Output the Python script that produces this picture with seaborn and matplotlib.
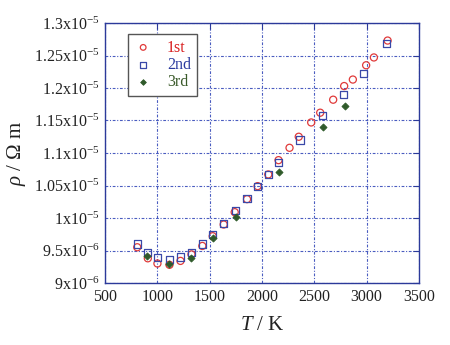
import numpy as np
import pandas as pd
import matplotlib
matplotlib.use("Agg")
import matplotlib.pyplot as plt
import seaborn as sns

# Electrical resistivity vs temperature, three measurement runs
t_1st = [808, 909, 1001, 1116, 1221, 1326, 1430, 1529, 1634, 1739, 1857, 1958,
         2060, 2158, 2263, 2351, 2470, 2556, 2680, 2785, 2868, 2995, 3069, 3200]
rho_1st = [9.55, 9.38, 9.30, 9.28, 9.34, 9.44, 9.57, 9.72, 9.90, 10.09, 10.29, 10.49,
           10.67, 10.89, 11.08, 11.25, 11.47, 11.62, 11.82, 12.03, 12.13, 12.35, 12.47, 12.73]

t_2nd = [808, 904, 1001, 1116, 1218, 1326, 1430, 1529, 1634, 1745, 1857, 1958,
         2060, 2162, 2363, 2582, 2780, 2973, 3193]
rho_2nd = [9.60, 9.47, 9.39, 9.36, 9.40, 9.47, 9.60, 9.75, 9.91, 10.11, 10.30, 10.49,
           10.67, 10.85, 11.20, 11.57, 11.90, 12.23, 12.68]

t_3rd = [904, 1113, 1326, 1531, 1752, 2165, 2580, 2795]
rho_3rd = [9.42, 9.29, 9.39, 9.69, 10.01, 10.71, 11.40, 11.72]

run_names = ["1st", "2nd", "3rd"]
x_ticks = [500, 1000, 1500, 2000, 2500, 3000, 3500]

frames = []
for name, t, r in zip(run_names, [t_1st, t_2nd, t_3rd], [rho_1st, rho_2nd, rho_3rd]):
    frames.append(pd.DataFrame({"T": t, "rho": np.array(r) * 1e-6, "run": name}))
df = pd.concat(frames, ignore_index=True)

sns.set_style("white")
plt.rcParams["font.family"] = ["Liberation Serif", "DejaVu Serif"]
plt.rcParams["mathtext.fontset"] = "custom"
plt.rcParams["mathtext.rm"] = "Liberation Serif"
plt.rcParams["mathtext.it"] = "Liberation Serif:italic"

axis_blue = "#2c3a9a"
grid_blue = "#4a5cc0"
styles = {
    "1st": dict(marker="o", facecolor="none", edgecolor="#e03a3a", s=26, lw=0.9),
    "2nd": dict(marker="s", facecolor="none", edgecolor="#3a48a8", s=26, lw=0.9),
    "3rd": dict(marker="D", facecolor="#2f5a2a", edgecolor="#2f5a2a", s=13, lw=0.6),
}
text_colors = {"1st": "#d81e1e", "2nd": "#2a3a9e", "3rd": "#3a5a2a"}

fig = plt.figure(figsize=(4.5, 3.45), dpi=100)
ax = fig.add_axes([105 / 450, 1 - 283 / 345, 314 / 450, 260 / 345])

for name in run_names:
    st = styles[name]
    sns.scatterplot(data=df[df["run"] == name], x="T", y="rho", ax=ax,
                    marker=st["marker"], facecolor=st["facecolor"],
                    edgecolor=st["edgecolor"], s=st["s"], linewidth=st["lw"],
                    label=name, zorder=3)

ax.set_xlim(500, 3500)
ax.set_ylim(9e-6, 1.3e-5)
ax.set_xticks(x_ticks)
ax.set_xticklabels([str(v) for v in x_ticks])
y_ticks = np.arange(9.0, 13.01, 0.5) * 1e-6
ax.set_yticks(y_ticks)


def sci_label(v):
    exp = -6 if v < 9.99e-6 else -5
    mant = v / 10.0 ** exp
    return r"$\mathrm{%sx10^{%d}}$" % (f"{mant:g}", exp)


ax.set_yticklabels([sci_label(v) for v in y_ticks])

ax.grid(True, color=grid_blue, linestyle=(0, (2.5, 1.5, 1, 1.5)), linewidth=0.8)
for sp in ax.spines.values():
    sp.set_color(axis_blue)
    sp.set_linewidth(1.0)
ax.tick_params(direction="in", length=4, width=0.8, color=axis_blue,
               top=True, right=True, labelsize=11.5, pad=4, labelcolor="#222222")

ax.set_xlabel(r"$T$ / K", fontsize=15, labelpad=8, color="#222222")
ax.set_ylabel(r"$\rho$ / $\mathrm{\Omega}$ m", fontsize=15, labelpad=4, color="#222222")

leg = ax.legend(loc="upper left", bbox_to_anchor=(23 / 314, 1 - 11 / 260),
                frameon=True, fancybox=False, framealpha=1, edgecolor="#555555",
                fontsize=11.5, handletextpad=0.9, borderpad=0.35, labelspacing=0.08,
                handlelength=1.2, borderaxespad=0, markerscale=0.8)
leg.get_frame().set_linewidth(1.0)
for txt in leg.get_texts():
    txt.set_color(text_colors[txt.get_text()])

fig.savefig("out.png", dpi=100)
